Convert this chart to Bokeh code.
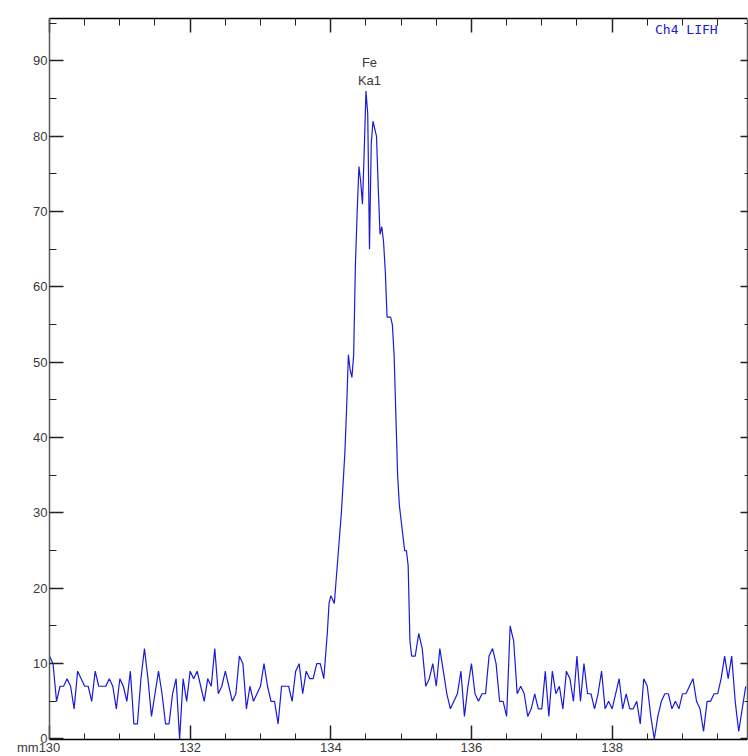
import numpy as np
from bokeh.plotting import figure
from bokeh.models import Range1d, LinearAxis, FixedTicker, Label, CustomLabelingPolicy
from bokeh.embed import file_html
from bokeh.resources import INLINE

# ---- data ----
# background before the peak: 130.00 .. 133.85 mm, step 0.05
left_start, left_step = 130.00, 0.05
left_counts = [11, 10, 5, 7, 7, 8, 7, 4, 9, 8,
               7, 7, 5, 9, 7, 7, 7, 8, 7, 4,
               8, 7, 5, 9, 2, 2, 8, 12, 8, 3,
               6, 9, 6, 2, 2, 6, 8, 0, 8, 5,
               9, 8, 9, 7, 5, 8, 7, 12, 6, 7,
               9, 7, 5, 6, 11, 10, 4, 7, 5, 6,
               7, 10, 7, 5, 5, 2, 7, 7, 7, 5,
               9, 10, 6, 9, 8, 8, 10, 10]
# Fe Ka1 peak: 133.900 .. 135.200 mm, step 0.025
peak_start, peak_step = 133.900, 0.025
peak_counts = [8, 11, 14, 18, 19, 18.5, 18, 21, 24, 27,
               30, 34, 38, 44, 51, 49, 48, 51, 63, 70,
               76, 74, 71, 78, 86, 83, 65, 79, 82, 81,
               80, 73, 67, 68, 66, 62, 56, 56, 56, 55,
               51, 43, 35, 31, 29, 27, 25, 25, 23, 13,
               11, 11, 11]
# background after the peak: 135.25 .. 139.90 mm, step 0.05
right_start, right_step = 135.25, 0.05
right_counts = [14, 12, 7, 8, 10, 7, 12, 9, 6, 4,
                5, 6, 9, 3, 7, 10, 6, 5, 6, 6,
                11, 12, 10, 5, 5, 3, 15, 13, 6, 7,
                6, 3, 4, 6, 4, 4, 9, 3, 9, 6,
                7, 4, 9, 8, 5, 11, 5, 10, 6, 6,
                4, 6, 9, 4, 5, 4, 6, 8, 4, 6,
                4, 4, 5, 2, 8, 7, 3, 0, 3, 5,
                6, 6, 4, 5, 4, 6, 6, 7, 8, 5,
                4, 1, 5, 5, 6, 6, 8, 11, 8, 11,
                5, 1, 4, 7]

x_major = [130, 132, 134, 136, 138]
x_minor = [130.5, 131, 131.5, 132.5, 133, 133.5, 134.5, 135, 135.5,
           136.5, 137, 137.5, 138.5, 139, 139.5]
y_major = [0, 10, 20, 30, 40, 50, 60, 70, 80, 90]
y_minor = [5, 15, 25, 35, 45, 55, 65, 75, 85, 95]

peak_element = "Fe"
peak_line = "Ka1"
peak_pos = 134.55
channel_label = "Ch4 LIFH"
x_unit = "mm"

# ---- assemble series ----
def grid(start, step, n):
    return [round(start + step * i, 3) for i in range(n)]

xs = (grid(left_start, left_step, len(left_counts))
      + grid(peak_start, peak_step, len(peak_counts))
      + grid(right_start, right_step, len(right_counts)))
ys = left_counts + peak_counts + right_counts

FONT = "Liberation Sans"
LABEL_COLOR = "#3a3a3a"

p = figure(frame_width=698, frame_height=721, output_backend="svg", toolbar_location=None,
           x_range=Range1d(130.0, 139.925), y_range=Range1d(-0.07, 95.64),
           x_axis_location=None, y_axis_location=None,
           min_border_left=49, min_border_right=1,
           min_border_top=18, min_border_bottom=17)
p.xgrid.visible = False
p.ygrid.visible = False
p.outline_line_color = None
p.background_fill_color = "white"
p.border_fill_color = "white"

no_labels = CustomLabelingPolicy(code="""
    for (const i of indices) { indices.unset(i) }
    return indices
""")


def style_axis(ax, major_in, minor_in, show_labels, line_color="#000000"):
    ax.major_tick_in = major_in
    ax.major_tick_out = 0
    ax.minor_tick_in = minor_in
    ax.minor_tick_out = 0
    ax.major_tick_line_color = "#222222"
    ax.minor_tick_line_color = "#222222"
    ax.major_tick_line_width = 1.5
    ax.minor_tick_line_width = 1
    ax.axis_line_color = line_color
    ax.axis_line_width = 1.5
    ax.major_label_text_font = FONT
    ax.major_label_text_font_size = "13px"
    ax.major_label_text_color = LABEL_COLOR
    if not show_labels:
        ax.major_label_policy = no_labels
        ax.major_label_standoff = 0


bottom = LinearAxis(ticker=FixedTicker(ticks=x_major, minor_ticks=x_minor))
style_axis(bottom, 14, 6, True)
bottom.major_label_standoff = 0
# the unit sits just left of the first tick label; pad the right side so "130" stays centred
bottom.major_label_overrides = {130: x_unit + "130" + "\u00a0" * 6}
p.add_layout(bottom, "below")

top = LinearAxis(ticker=FixedTicker(ticks=x_major, minor_ticks=x_minor))
style_axis(top, 14, 7, False)
p.add_layout(top, "above")

left = LinearAxis(ticker=FixedTicker(ticks=y_major, minor_ticks=y_minor))
style_axis(left, 14, 7, True, line_color="#5a5a5a")
left.major_label_standoff = 2
p.add_layout(left, "left")

right = LinearAxis(ticker=FixedTicker(ticks=y_major, minor_ticks=y_minor))
style_axis(right, 7, 3, False, line_color="#5a5a5a")
p.add_layout(right, "right")

p.line(xs, ys, line_color="#1a1ad8", line_width=1.2)

p.add_layout(Label(x=peak_pos, y=89.8, text=peak_element, text_align="center",
                   text_baseline="middle", text_font=FONT, text_font_size="13px",
                   text_color=LABEL_COLOR))
p.add_layout(Label(x=peak_pos, y=87.4, text=peak_line, text_align="center",
                   text_baseline="middle", text_font=FONT, text_font_size="13px",
                   text_color=LABEL_COLOR))
p.add_layout(Label(x=138.61, y=94.2, text=channel_label, text_align="left",
                   text_baseline="middle", text_font="DejaVu Sans Mono",
                   text_font_size="13px", text_color="#1a1ad8"))

open("out.html", "w").write(file_html(p, INLINE))
